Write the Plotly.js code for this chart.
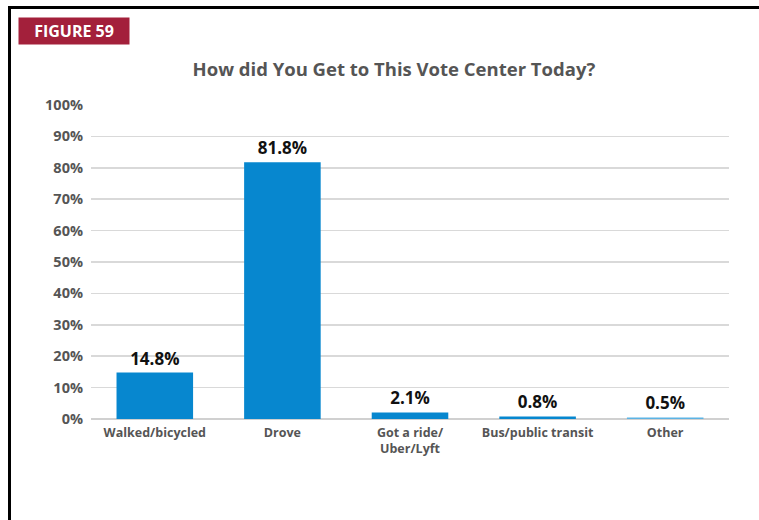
<!DOCTYPE html>
<html>
<head>
<meta charset="utf-8">
<script src="https://cdn.plot.ly/plotly-3.0.1.min.js"></script>
<style>
  html, body { margin: 0; padding: 0; background: #fff; overflow: hidden; width: 759px; height: 520px; }
  #frame { position: absolute; left: 8px; top: 6px; width: 751px; height: 514px; border-left: 3px solid #000; border-top: 3px solid #000; box-sizing: border-box; }
  #chart { position: absolute; left: 0; top: 0; width: 759px; height: 520px; }
</style>
</head>
<body>
<div id="frame"></div>
<div id="chart"></div>
<script>
const categories = ["Walked/bicycled", "Drove", "Got a ride/<br>Uber/Lyft", "Bus/public transit", "Other"];
const values = [14.8, 81.8, 2.1, 0.8, 0.5];
const valueLabels = ["14.8%", "81.8%", "2.1%", "0.8%", "0.5%"];
const barColors = ["#0787cf", "#0787cf", "#0787cf", "#0787cf", "#5cb3e4"];
const yTicks = [0, 10, 20, 30, 40, 50, 60, 70, 80, 90, 100];
const yTickLabels = yTicks.map(v => v + "%");

const font = "'Open Sans', sans-serif";

const trace = {
  type: "bar",
  x: categories,
  y: values,
  text: valueLabels,
  textposition: "outside",
  cliponaxis: false,
  textfont: { family: font, size: 17, color: "#111", weight: 700 },
  marker: { color: barColors },
  width: 0.6,
  hoverinfo: "skip"
};

const layout = {
  width: 759,
  height: 520,
  paper_bgcolor: "rgba(0,0,0,0)",
  plot_bgcolor: "rgba(0,0,0,0)",
  margin: { l: 91, r: 30, t: 105, b: 101 },
  showlegend: false,
  title: {
    text: "How did You Get to This Vote Center Today?",
    font: { family: font, size: 18.5, color: "#555", weight: 700 },
    x: 0.519, xanchor: "center", y: 0.866, yanchor: "middle"
  },
  xaxis: {
    type: "category",
    tickfont: { family: font, size: 12.5, color: "#555", weight: 700 },
    ticks: "",
    ticklabelstandoff: 4,
    showline: false,
    showgrid: false,
    fixedrange: true
  },
  yaxis: {
    range: [0, 100],
    tickvals: yTicks,
    ticktext: yTickLabels,
    tickfont: { family: font, size: 14.5, color: "#555", weight: 700 },
    ticks: "",
    ticklabelstandoff: 7,
    showgrid: true,
    gridcolor: "#d9d9d9",
    gridwidth: 1.5,
    zeroline: true,
    zerolinecolor: "#d0d0d0",
    zerolinewidth: 1.5,
    showline: false,
    fixedrange: true
  },
  annotations: [{
    text: "FIGURE 59",
    xref: "paper", yref: "paper",
    x: (18 - 91) / 638, y: 1 + (105 - 17) / 314,
    xanchor: "left", yanchor: "top",
    showarrow: false,
    font: { family: font, size: 16, color: "#fff", weight: 700 },
    bgcolor: "#a3203b",
    borderpad: 4,
    width: 102, height: 18,
    align: "center"
  }]
};

Plotly.newPlot("chart", [trace], layout, { displayModeBar: false, staticPlot: true });
</script>
</body>
</html>
